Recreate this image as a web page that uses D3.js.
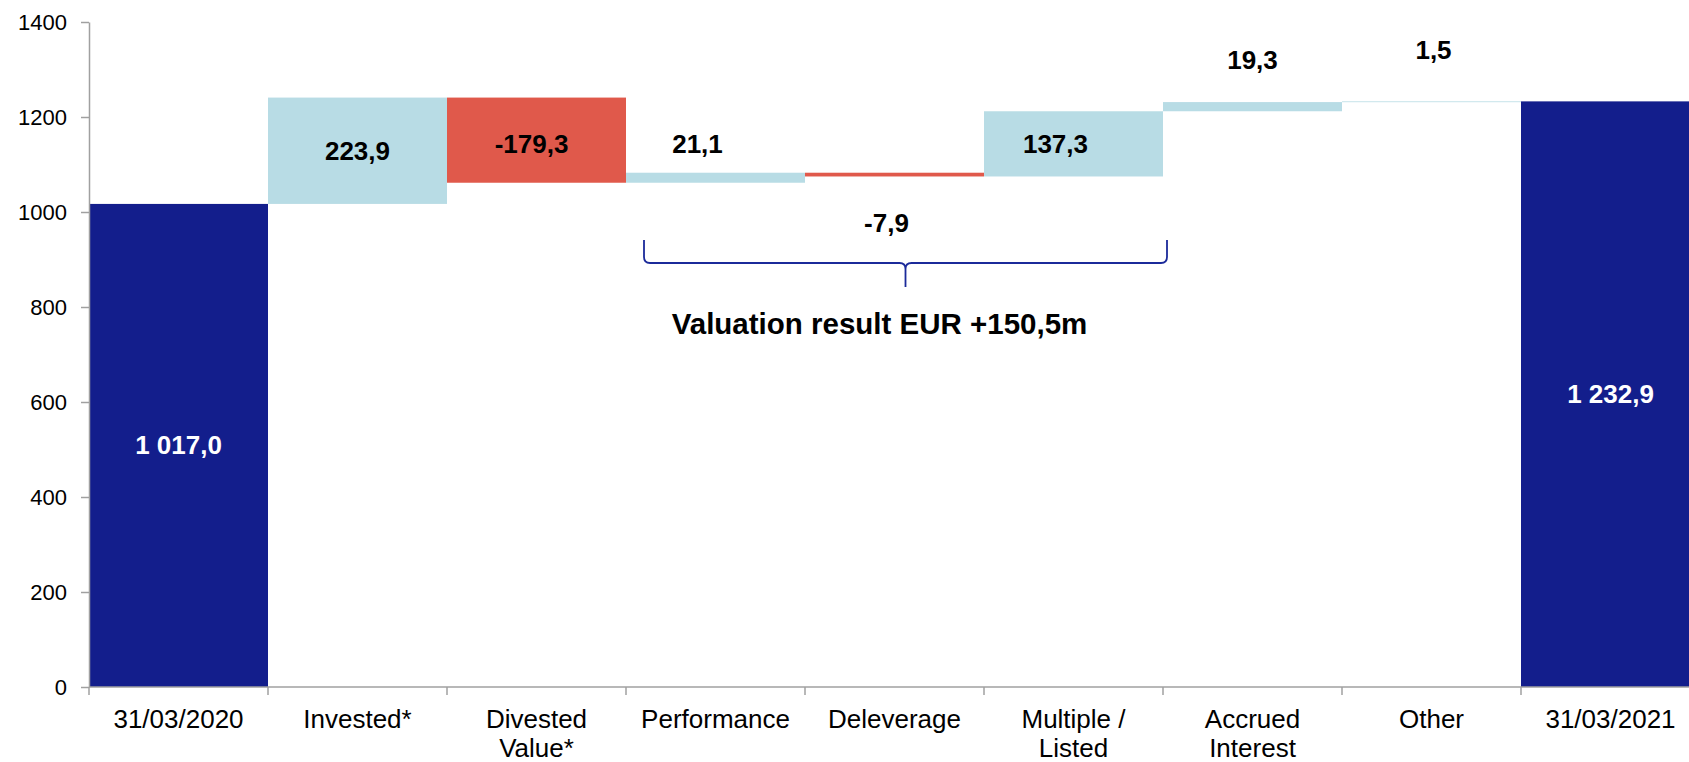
<!DOCTYPE html>
<html>
<head>
<meta charset="utf-8">
<script src="https://cdn.jsdelivr.net/npm/d3@7"></script>
<style>
  html, body { margin: 0; padding: 0; background: #ffffff; overflow: hidden; }
  svg { display: block; font-family: "Liberation Sans", Arial, sans-serif; }
</style>
</head>
<body>
<svg id="chart" width="1689" height="762"></svg>
<script>
// Portfolio value bridge, 31/03/2020 -> 31/03/2021 (EUR m)
const categories = ["31/03/2020", "Invested*", "Divested\nValue*", "Performance", "Deleverage",
                    "Multiple /\nListed", "Accrued\nInterest", "Other", "31/03/2021"];
const kinds      = ["total", "delta", "delta", "delta", "delta", "delta", "delta", "delta", "total"];
const values     = [1017.0, 223.9, -179.3, 21.1, -7.9, 137.3, 19.3, 1.5, 1232.9];
const yTicks     = [0, 200, 400, 600, 800, 1000, 1200, 1400];
const bracketFrom = "Performance", bracketTo = "Multiple /\nListed";
const bracketText = "Valuation result EUR +150,5m";

// label placement per bar: where the value sits and a small nudge
const labelPos = ["inside", "inside", "inside", "above", "below", "inside", "above", "above", "inside"];
const labelGap = [0, 0, 0, 20, 56, 0, 33, 42, 0];
const labelDx  = [0, 0, -5, -18, -8, -18, 0, 2, 0];
const labelDy  = [0, 0, 4, 0, 0, 0, 0, 0, 0];

const C = { total: "#131E8C", up: "#B8DCE5", down: "#E0594B", axis: "#A0A0A0", brace: "#1B2A9A" };

const fmt = d3.formatLocale({ decimal: ",", thousands: " ", grouping: [3], currency: ["", ""], minus: "-" }).format(",.1f");

// running base for the waterfall
let run = 0;
const bars = categories.map((c, i) => {
  let lo, hi;
  if (kinds[i] === "total") { lo = 0; hi = values[i]; run = values[i]; }
  else { const a = run, b = run + values[i]; lo = Math.min(a, b); hi = Math.max(a, b); run = b; }
  return { c, i, v: values[i], kind: kinds[i], lo, hi };
});

const svg = d3.select("#chart");
const x = d3.scaleBand().domain(categories).range([89, 1700]).paddingInner(0).paddingOuter(0);
const y = d3.scaleLinear().domain([0, 1400]).range([687, 22]);

// bars
svg.append("g").selectAll("rect").data(bars).join("rect")
  .attr("x", d => x(d.c))
  .attr("width", x.bandwidth())
  .attr("y", d => y(d.hi))
  .attr("height", d => Math.max(0.8, y(d.lo) - y(d.hi)))
  .attr("fill", d => d.kind === "total" ? C.total : (d.v >= 0 ? C.up : C.down));

// y axis
const yAxis = svg.append("g").attr("transform", `translate(${x.range()[0]},0)`)
  .call(d3.axisLeft(y).tickValues(yTicks).tickFormat(d3.format("d")).tickSize(8).tickPadding(14).tickSizeOuter(0));
yAxis.select(".domain").attr("stroke", C.axis).attr("stroke-width", 1.5);
yAxis.selectAll(".tick line").attr("stroke", C.axis).attr("stroke-width", 1.5);
yAxis.selectAll(".tick text").attr("font-size", 22).attr("fill", "#000").attr("font-family", "Liberation Sans, Arial, sans-serif");

// x axis: baseline with ticks at the band edges
const xg = svg.append("g");
xg.append("line").attr("x1", x.range()[0]).attr("x2", x.range()[1]).attr("y1", y(0)).attr("y2", y(0))
  .attr("stroke", C.axis).attr("stroke-width", 1.5);
const edges = categories.map(c => x(c)).concat([x.range()[1]]);
xg.selectAll("line.edge").data(edges).join("line").attr("class", "edge")
  .attr("x1", d => d).attr("x2", d => d).attr("y1", y(0)).attr("y2", y(0) + 8)
  .attr("stroke", C.axis).attr("stroke-width", 1.5);
const catText = xg.selectAll("text.cat").data(categories).join("text").attr("class", "cat")
  .attr("x", c => x(c) + x.bandwidth() / 2)
  .attr("y", y(0) + 41)
  .attr("text-anchor", "middle")
  .attr("font-size", 26)
  .attr("fill", "#000");
catText.each(function (c) {
  const t = d3.select(this);
  c.split("\n").forEach((line, k) => {
    t.append("tspan").attr("x", x(c) + x.bandwidth() / 2).attr("dy", k === 0 ? 0 : 28.5).text(line);
  });
});

// value labels
svg.append("g").selectAll("text").data(bars).join("text")
  .attr("x", d => x(d.c) + x.bandwidth() / 2 + labelDx[d.i])
  .attr("y", d => {
    const p = labelPos[d.i];
    let v;
    if (p === "inside") v = (y(d.hi) + y(d.lo)) / 2 + 9;
    else if (p === "above") v = y(d.hi) - labelGap[d.i];
    else v = y(d.lo) + labelGap[d.i];
    return v + labelDy[d.i];
  })
  .attr("text-anchor", "middle")
  .attr("font-size", 26)
  .attr("font-weight", "bold")
  .attr("fill", d => d.kind === "total" ? "#fff" : "#000")
  .text(d => fmt(d.v));

// bracket over the valuation components
const bx0 = x(bracketFrom) + 18, bx1 = x(bracketTo) + x.bandwidth() + 4;
const bxm = (bx0 + bx1) / 2;
const byTop = 240, byMid = 263, byTip = 287, r = 6;
const brace = d3.path();
brace.moveTo(bx0, byTop);
brace.lineTo(bx0, byMid - r);
brace.quadraticCurveTo(bx0, byMid, bx0 + r, byMid);
brace.lineTo(bxm - r, byMid);
brace.quadraticCurveTo(bxm, byMid, bxm, byMid + r);
brace.lineTo(bxm, byTip);
brace.moveTo(bxm, byMid + r);
brace.quadraticCurveTo(bxm, byMid, bxm + r, byMid);
brace.lineTo(bx1 - r, byMid);
brace.quadraticCurveTo(bx1, byMid, bx1, byMid - r);
brace.lineTo(bx1, byTop);
svg.append("path").attr("d", brace.toString()).attr("fill", "none")
  .attr("stroke", C.brace).attr("stroke-width", 1.8);
svg.append("text").attr("x", bxm - 26).attr("y", 334)
  .attr("text-anchor", "middle").attr("font-size", 29.5).attr("font-weight", "bold").attr("fill", "#000")
  .text(bracketText);
</script>
</body>
</html>
